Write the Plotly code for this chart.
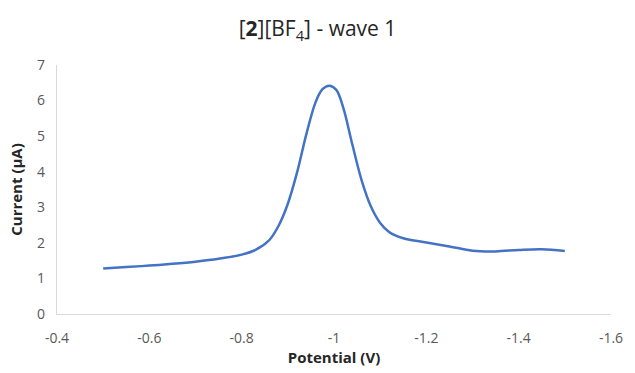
import plotly.graph_objects as go

potential = [-0.50, -0.55, -0.60, -0.65, -0.70, -0.75, -0.80, -0.83, -0.86, -0.88,
             -0.90, -0.92, -0.94, -0.96, -0.975, -0.99, -1.005, -1.02, -1.04, -1.06,
             -1.08, -1.10, -1.12, -1.15, -1.20, -1.25, -1.30, -1.35, -1.40, -1.45, -1.50]
current = [1.28, 1.32, 1.36, 1.41, 1.47, 1.55, 1.67, 1.80, 2.08, 2.48,
           3.10, 3.98, 5.05, 5.95, 6.32, 6.42, 6.30, 5.80, 4.75, 3.75,
           3.02, 2.56, 2.30, 2.13, 2.01, 1.90, 1.78, 1.76, 1.80, 1.82, 1.77]

x_ticks = [-0.4, -0.6, -0.8, -1.0, -1.2, -1.4, -1.6]
x_tick_labels = ["-0.4", "-0.6", "-0.8", "-1", "-1.2", "-1.4", "-1.6"]
y_ticks = [0, 1, 2, 3, 4, 5, 6, 7]

FONT = "Open Sans"
fig = go.Figure()
fig.add_trace(go.Scatter(x=potential, y=current, mode="lines",
                         line=dict(color="#4472C4", width=2.5, shape="spline", smoothing=1.0),
                         showlegend=False))

fig.update_layout(
    width=635, height=373,
    margin=dict(l=57, r=13, t=65, b=59),
    paper_bgcolor="white", plot_bgcolor="white",
    font=dict(family=FONT, color="#595959", size=14),
    title=dict(text="[<b>2</b>][BF<sub>4</sub>] - wave 1", x=0.5, xanchor="center",
               y=1 - 29/373, yanchor="middle",
               font=dict(family=FONT, size=21, color="#262626")),
    xaxis=dict(range=[-0.4, -1.6], tickvals=x_ticks, ticktext=x_tick_labels,
               showgrid=False, zeroline=False, showline=True, linecolor="#D9D9D9", linewidth=1.3,
               ticks="", ticklabelstandoff=11, tickfont=dict(size=14, color="#595959"),
               title=dict(text="<b>Potential (V)</b>", font=dict(size=15, color="#262626"), standoff=3)),
    yaxis=dict(range=[0, 7], tickvals=y_ticks,
               showgrid=False, zeroline=False, showline=True, linecolor="#D9D9D9", linewidth=1.3,
               ticks="", ticklabelstandoff=8, tickfont=dict(size=14, color="#595959"),
               title=dict(text="<b>Current (μA)</b>", font=dict(size=15, color="#262626"), standoff=10)),
)

fig.write_html("out.html")
